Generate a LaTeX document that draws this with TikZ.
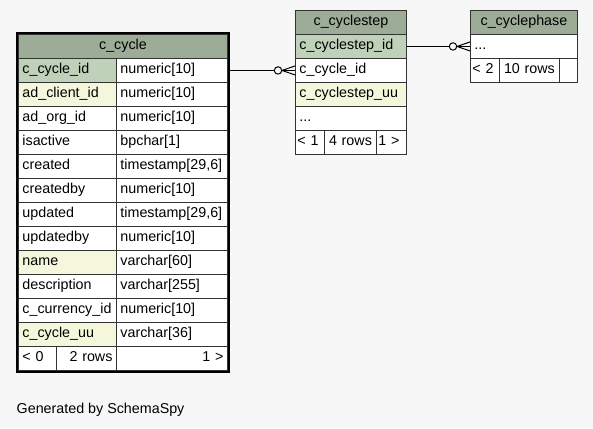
\documentclass[tikz,border=0pt]{standalone}
\usepackage{fontspec}
\setmainfont{Liberation Sans}
\usepackage{xcolor}
\definecolor{bgcol}{HTML}{F7F7F7}
\definecolor{headcol}{HTML}{9DAC96}
\definecolor{keycol}{HTML}{BFD1B8}
\definecolor{idxcol}{HTML}{F4F7DC}
\tikzset{
  cell/.style={draw=black!80, line width=0.9pt, fill=white, anchor=north west,
    minimum height=24pt, inner xsep=4pt, inner ysep=0pt, text width=#1,
    align=left, text height=10pt, text depth=3pt,
    font=\fontsize{14.3}{16}\selectfont},
  head/.style={cell=#1, fill=headcol, align=center},
  conn/.style={draw=black, line width=1pt},
}
\begin{document}
\begin{tikzpicture}[x=1pt,y=-1pt]
  \fill[bgcol] (0,0) rectangle (593,428);
  % c_cycle
  \node[head=201pt] (cyc) at (18,34) {c\_cycle};
  \node[cell=90pt, fill=keycol] (cyc-id) at (18,58) {c\_cycle\_id};
  \node[cell=103pt] (cyc-id-t) at (116,58) {numeric[10]};
  \node[cell=90pt, fill=idxcol] (cyc-client) at (18,82) {ad\_client\_id};
  \node[cell=103pt] (cyc-client-t) at (116,82) {numeric[10]};
  \node[cell=90pt] (cyc-org) at (18,106) {ad\_org\_id};
  \node[cell=103pt] (cyc-org-t) at (116,106) {numeric[10]};
  \node[cell=90pt] (cyc-act) at (18,130) {isactive};
  \node[cell=103pt] (cyc-act-t) at (116,130) {bpchar[1]};
  \node[cell=90pt] (cyc-crd) at (18,154) {created};
  \node[cell=103pt] (cyc-crd-t) at (116,154) {timestamp[29,6]};
  \node[cell=90pt] (cyc-crdby) at (18,178) {createdby};
  \node[cell=103pt] (cyc-crdby-t) at (116,178) {numeric[10]};
  \node[cell=90pt] (cyc-upd) at (18,202) {updated};
  \node[cell=103pt] (cyc-upd-t) at (116,202) {timestamp[29,6]};
  \node[cell=90pt] (cyc-updby) at (18,226) {updatedby};
  \node[cell=103pt] (cyc-updby-t) at (116,226) {numeric[10]};
  \node[cell=90pt, fill=idxcol] (cyc-name) at (18,250) {name};
  \node[cell=103pt] (cyc-name-t) at (116,250) {varchar[60]};
  \node[cell=90pt] (cyc-desc) at (18,274) {description};
  \node[cell=103pt] (cyc-desc-t) at (116,274) {varchar[255]};
  \node[cell=90pt] (cyc-cur) at (18,298) {c\_currency\_id};
  \node[cell=103pt] (cyc-cur-t) at (116,298) {numeric[10]};
  \node[cell=90pt, fill=idxcol] (cyc-uu) at (18,322) {c\_cycle\_uu};
  \node[cell=103pt] (cyc-uu-t) at (116,322) {varchar[36]};
  \node[cell=30pt] (cyc-prev) at (18,346) {<~0};
  \node[cell=52pt, align=right] (cyc-rows) at (56,346) {2~rows};
  \node[cell=103pt, align=right] (cyc-next) at (116,346) {1~>};
  \draw[line width=2.2pt] ([shift={(-1pt,1pt)}]cyc.north west)
    rectangle ([shift={(1pt,-1pt)}]cyc-next.south east);
  % c_cyclestep
  \node[head=103pt] (stp) at (295,10) {c\_cyclestep};
  \node[cell=103pt, fill=keycol] (stp-id) at (295,34) {c\_cyclestep\_id};
  \node[cell=103pt] (stp-cyc) at (295,58) {c\_cycle\_id};
  \node[cell=103pt, fill=idxcol] (stp-uu) at (295,82) {c\_cyclestep\_uu};
  \node[cell=103pt] (stp-dots) at (295,106) {...};
  \node[cell=25pt, inner xsep=2pt] (stp-prev) at (295,130) {<~1};
  \node[cell=44pt, align=center] (stp-rows) at (324,130) {4~rows};
  \node[cell=26pt, inner xsep=2pt] (stp-next) at (376,130) {1~>};
  % c_cyclephase
  \node[head=99pt] (phs) at (470,10) {c\_cyclephase};
  \node[cell=99pt] (phs-dots) at (470,34) {...};
  \node[cell=25pt, inner xsep=2pt] (phs-prev) at (470,58) {<~2};
  \node[cell=52pt, align=center] (phs-rows) at (499,58) {10~rows};
  \node[cell=10pt] (phs-next) at (559,58) {};
  % relations
  \draw[conn] (cyc-id-t.east) -- (stp-cyc.west);
  \draw[conn] ([xshift=-13pt]stp-cyc.west) -- ([yshift=4.5pt]stp-cyc.west);
  \draw[conn] ([xshift=-13pt]stp-cyc.west) -- ([yshift=-4.5pt]stp-cyc.west);
  \draw[conn, fill=bgcol] ([xshift=-17pt]stp-cyc.west) circle (3.7pt);
  \draw[conn] (stp-id.east) -- (phs-dots.west);
  \draw[conn] ([xshift=-13pt]phs-dots.west) -- ([yshift=4.5pt]phs-dots.west);
  \draw[conn] ([xshift=-13pt]phs-dots.west) -- ([yshift=-4.5pt]phs-dots.west);
  \draw[conn, fill=bgcol] ([xshift=-17pt]phs-dots.west) circle (3.7pt);
  \node[anchor=base west, inner sep=0pt, font=\fontsize{14.3}{16}\selectfont]
    (gen) at (16.5,413) {Generated by SchemaSpy};
\end{tikzpicture}
\end{document}
